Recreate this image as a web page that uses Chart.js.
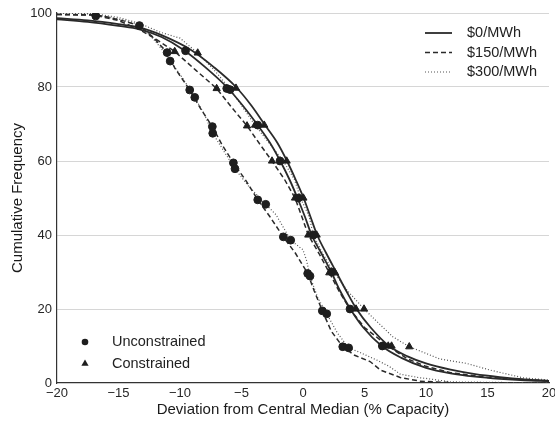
<!DOCTYPE html>
<html><head><meta charset="utf-8">
<script src="https://cdn.jsdelivr.net/npm/chart.js@4.4.1/dist/chart.umd.min.js"></script>
<style>html,body{margin:0;padding:0;background:#fff;} canvas{display:block;}</style>
</head><body>
<canvas id="c" width="555" height="421"></canvas>
<script>
// ---- tick labels / categories ----
const xTicks = [-20, -15, -10, -5, 0, 5, 10, 15, 20];
const yTicks = [0, 20, 40, 60, 80, 100];
const priceLabels = ['$0/MWh', '$150/MWh', '$300/MWh'];
const markerLabels = ['Unconstrained', 'Constrained'];
const xTitle = 'Deviation from Central Median (% Capacity)';
const yTitle = 'Cumulative Frequency';

// ---- curves (x = deviation, y = cumulative frequency) ----
const u0X = [-20, -17.5, -15, -13.3, -11.5, -9.7, -8, -6.2, -4.9, -3.75, -2.7, -1.85, -1.1, -0.45, 0.15, 0.7, 1.5, 2.3, 3.0, 3.85, 4.9, 6.4, 8, 10, 12, 14, 16, 18, 20];
const u0Y = [98.3, 97.6, 96.5, 95.6, 93.5, 90, 85.5, 80, 75, 70, 65, 60, 55, 50, 45, 40, 35, 30, 25, 20, 15, 10, 6.8, 4.1, 2.6, 1.7, 1.1, 0.7, 0.5];
const c0X = [-20, -17.5, -15, -13.3, -11.5, -9.1, -7.3, -5.45, -4.2, -3.15, -2.1, -1.3, -0.6, 0.05, 0.6, 1.15, 1.9, 2.7, 3.5, 4.35, 5.5, 7.0, 8.5, 10, 12, 14, 16, 18, 20];
const c0Y = [98.6, 98, 97, 96.1, 94, 90, 85.5, 80, 75, 70, 65, 60, 55, 50, 45, 40, 35, 30, 25, 20, 15, 10, 7.2, 5.3, 3.6, 2.4, 1.6, 1.0, 0.6];
const u150X = [-20, -17, -16, -14.5, -13.3, -12.2, -11.05, -10.4, -9.21, -8.3, -7.37, -6.6, -5.66, -4.6, -3.68, -2.7, -1.6, -0.6, 0.38, 0.9, 1.57, 2.3, 3.23, 4.2, 5.45, 6.3, 7.9, 9.5, 12, 20];
const u150Y = [99.6, 99.5, 99, 97.8, 96.5, 93.5, 89.3, 85, 79.2, 74, 69.3, 64.5, 59.5, 54.5, 49.5, 45, 39.5, 35, 29.6, 25, 19.5, 14, 9.8, 7.5, 5.8, 3.5, 1.5, 0.5, 0.1, 0];
const u300X = [-20, -17, -16.85, -15, -13.3, -12.3, -11.3, -10.8, -9.8, -8.8, -8, -7.34, -6.5, -5.53, -4.5, -3.03, -2.2, -1.5, -1.0, 0.0, 0.3, 0.57, 1.2, 1.93, 2.8, 3.71, 4.6, 6.0, 7.0, 7.9, 9.5, 10.1, 12, 20];
const u300Y = [100, 99.8, 99.4, 98.4, 96.8, 93.5, 89.5, 87, 82.5, 77.2, 72.5, 67.5, 63, 57.9, 53.5, 48.3, 45.5, 41.5, 38.6, 36, 33, 28.9, 23, 18.7, 13.5, 9.5, 8.3, 6.2, 4.5, 2.4, 1.4, 1.2, 0.3, 0];
const c150X = [-20, -17, -15, -13.3, -12, -10.43, -8.7, -7.02, -5.8, -4.55, -3.5, -2.52, -1.5, -0.65, -0.1, 0.43, 1.3, 2.14, 2.9, 3.8, 5.0, 6.9, 8.5, 10, 12, 15, 20];
const c150Y = [99.6, 99.4, 98, 95.5, 93, 89.6, 84.5, 79.6, 74.5, 69.5, 64.5, 60, 55, 50, 45, 40, 35, 29.8, 25, 20, 15, 10, 6.5, 4.5, 2.8, 1.5, 0.6];
const c300X = [-20, -17, -15, -13.3, -11.6, -10, -8.56, -7.2, -5.93, -4.9, -3.9, -2.8, -1.6, -0.7, -0.2, 0.5, 0.84, 1.6, 2.5, 3.6, 4.96, 6.2, 7.3, 8.64, 10, 11.1, 13.3, 15.2, 17.9, 20];
const c300Y = [100, 99.8, 98.8, 97.2, 94.8, 93.2, 89.2, 84.5, 79.5, 74.5, 69.7, 65, 60, 55, 50, 45, 40, 35, 30, 25, 20, 16, 12.5, 9.8, 8.0, 6.5, 5.3, 3.5, 1.4, 0.8];

// ---- markers ----
const unconX = [-16.85, -13.3, -11.05, -10.8, -9.55, -9.21, -8.80, -6.2, -5.93, -7.37, -7.34, -3.68, -5.66, -5.53, -1.87, -3.68, -3.03, -0.38, -1.6, -1.0, 0.84, 0.38, 0.57, 2.35, 1.57, 1.93, 3.82, 3.23, 3.71, 6.45];
const unconY = [99.2, 96.6, 89.3, 87.0, 89.8, 79.2, 77.2, 79.6, 79.3, 69.3, 67.5, 69.7, 59.5, 57.9, 60, 49.5, 48.3, 50, 39.5, 38.6, 40, 29.6, 28.9, 30, 19.5, 18.7, 20, 9.8, 9.5, 10];
const conX = [-10.43, -8.56, -7.02, -5.45, -4.55, -3.9, -3.15, -2.52, -1.33, -0.65, 0.03, 0.43, 1.11, 2.14, 2.6, 4.31, 4.96, 6.93, 7.2, 8.64];
const conY = [89.6, 89.2, 79.6, 79.7, 69.5, 69.7, 69.7, 60, 60, 50, 50, 40, 40, 29.8, 29.8, 20, 20, 10, 10, 9.8];

const zip = (xs, ys) => xs.map((x, i) => ({x: x, y: ys[i]}));

const FONT = '"Liberation Sans", Arial, Helvetica, sans-serif';
const LINE = '#2a2a2a';
const styles = [
  {dash: [], width: 1.8, color: LINE},
  {dash: [5, 3], width: 1.5, color: LINE},
  {dash: [1, 2], width: 1.2, color: '#555'}
];

function lineDs(label, xs, ys, st, smooth) {
  return {
    label: label, data: zip(xs, ys), showLine: true, pointRadius: 0,
    borderColor: st.color, borderWidth: st.width, borderDash: st.dash,
    tension: smooth ? 0.4 : 0, cubicInterpolationMode: smooth ? 'monotone' : 'default',
    order: 2
  };
}

const datasets = [
  {label: markerLabels[0], data: zip(unconX, unconY), showLine: false, pointStyle: 'circle',
   pointRadius: 3.9, pointBackgroundColor: '#1e1e1e', pointBorderColor: '#1e1e1e', order: 0},
  {label: markerLabels[1], data: zip(conX, conY), showLine: false, pointStyle: 'triangle',
   pointRadius: 4.2, pointBackgroundColor: '#1e1e1e', pointBorderColor: '#1e1e1e', order: 0},
  lineDs('U ' + priceLabels[0], u0X, u0Y, styles[0], true),
  lineDs('C ' + priceLabels[0], c0X, c0Y, styles[0], true),
  lineDs('U ' + priceLabels[1], u150X, u150Y, styles[1], false),
  lineDs('U ' + priceLabels[2], u300X, u300Y, styles[2], false),
  lineDs('C ' + priceLabels[1], c150X, c150Y, styles[1], false),
  lineDs('C ' + priceLabels[2], c300X, c300Y, styles[2], false)
];

const legendPlugin = {
  id: 'customLegends',
  afterDraw(chart) {
    const ctx = chart.ctx;
    ctx.save();
    ctx.font = '14.5px ' + FONT;
    ctx.fillStyle = '#222';
    ctx.textBaseline = 'middle';
    ctx.textAlign = 'left';
    const rows = [33, 52.5, 72];
    priceLabels.forEach((lab, i) => {
      const st = styles[i];
      ctx.beginPath();
      ctx.setLineDash(st.dash);
      ctx.lineWidth = st.width;
      ctx.strokeStyle = st.color;
      ctx.moveTo(425, rows[i]);
      ctx.lineTo(452, rows[i]);
      ctx.stroke();
      ctx.setLineDash([]);
      ctx.fillText(lab, 467, rows[i]);
    });
    // marker legend
    ctx.fillStyle = '#1e1e1e';
    ctx.beginPath();
    ctx.arc(85, 342, 3.3, 0, Math.PI * 2);
    ctx.fill();
    ctx.beginPath();
    ctx.moveTo(85, 359.5);
    ctx.lineTo(88.6, 365.8);
    ctx.lineTo(81.4, 365.8);
    ctx.closePath();
    ctx.fill();
    ctx.fillStyle = '#222';
    ctx.fillText(markerLabels[0], 112, 342);
    ctx.fillText(markerLabels[1], 112, 363.5);
    ctx.restore();
  }
};

const minus = v => String(v).replace('-', '\u2212');

new Chart(document.getElementById('c'), {
  type: 'scatter',
  data: {datasets: datasets},
  plugins: [legendPlugin],
  options: {
    responsive: false,
    animation: false,
    layout: {padding: {top: 13, right: 6, left: 0, bottom: 0}},
    plugins: {legend: {display: false}, tooltip: {enabled: false}},
    scales: {
      x: {
        type: 'linear', min: xTicks[0], max: xTicks[xTicks.length - 1],
        afterBuildTicks: s => { s.ticks = xTicks.map(v => ({value: v})); },
        afterFit: s => { s.height = 38; s.paddingLeft = 0; s.paddingRight = 0; },
        grid: {display: false, drawTicks: false},
        border: {display: true, color: '#333', width: 1.2},
        ticks: {padding: 3, color: '#262626', font: {family: FONT, size: 13}, callback: minus, maxRotation: 0, autoSkip: false},
        title: {display: true, text: xTitle, color: '#1a1a1a', font: {family: FONT, size: 15}, padding: {top: 0, bottom: 2}}
      },
      y: {
        type: 'linear', min: yTicks[0], max: yTicks[yTicks.length - 1],
        afterBuildTicks: s => { s.ticks = yTicks.map(v => ({value: v})); },
        afterFit: s => { s.width = 57; s.paddingTop = 0; s.paddingBottom = 0; },
        grid: {drawTicks: false, lineWidth: 1, color: c => (c.tick && c.tick.value === 0) ? 'rgba(0,0,0,0)' : '#d6d6d6'},
        border: {display: true, color: '#333', width: 1.2},
        ticks: {padding: 5, color: '#262626', font: {family: FONT, size: 13}, callback: minus},
        title: {display: true, text: yTitle, color: '#1a1a1a', font: {family: FONT, size: 15}, padding: {top: 9, bottom: 0}}
      }
    }
  }
});
</script>
</body></html>
